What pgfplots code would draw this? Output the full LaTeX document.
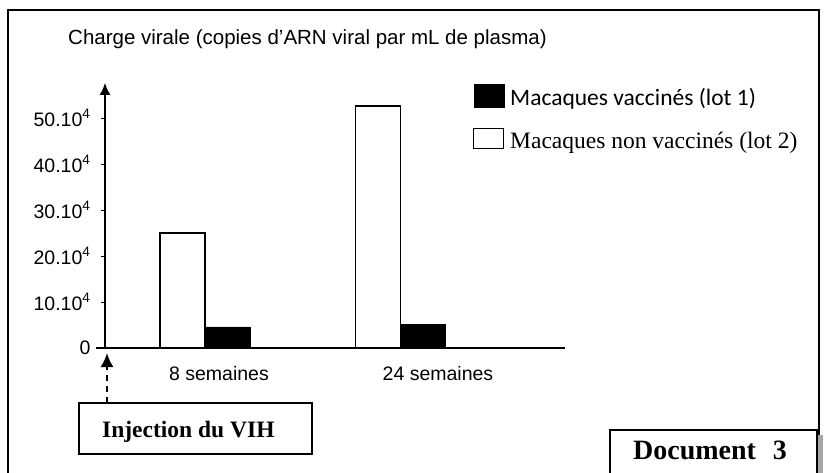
\documentclass[border=0pt]{standalone}
\usepackage{pgfplots}
\pgfplotsset{compat=1.18}
\usepackage{fontspec}
\setmainfont{Liberation Serif}
\newfontfamily\arial{Liberation Sans}
\newfontfamily\carlito{Carlito}
\usetikzlibrary{arrows.meta}

\begin{document}
\begin{tikzpicture}[x=1pt,y=1pt]
\useasboundingbox (0,0) rectangle (824,472);
\fill[white] (0,0) rectangle (824,472);
\draw[line width=1.8pt] (8,-3) -- (8,462) -- (819,462) -- (819,-3);
\begin{axis}[
  at={(105pt,124pt)}, anchor=south west,
  scale only axis, width=460pt, height=265pt,
  xmin=105, xmax=565, ymin=0, ymax=57.61,
  clip=false,
  axis lines*=left,
  x axis line style={draw=none},
  y axis line style={line width=1.4pt, -{Latex[length=12pt,width=11pt]}},
  ytick={0,10,20,30,40,50},
  yticklabels={0,10.10\textsuperscript{4},20.10\textsuperscript{4},30.10\textsuperscript{4},40.10\textsuperscript{4},50.10\textsuperscript{4}},
  xtick={219,438},
  xticklabels={8 semaines,24 semaines},
  xtick style={draw=none},
  ytick style={line width=1pt,black},
  major tick length=4pt,
  tick align=outside,
  ticklabel style={font=\arial\fontsize{19.5}{22}\selectfont},
  yticklabel style={xshift=-7pt},
  xticklabel style={anchor=base, yshift=-28pt},
  title={Charge virale (copies d’ARN viral par mL de plasma)},
  title style={font=\arial\fontsize{20.5}{24}\selectfont, at={(axis description cs:-0.0804,1.1245)}, anchor=base west, inner sep=0pt},
  legend cell align=left,
  legend style={font=\fontsize{23.5}{28}\selectfont, draw=none, fill=none,
    at={(axis cs:473,57.46)}, anchor=north west, inner sep=0pt,
    row sep=21pt, column sep=6pt, nodes={inner sep=0pt}},
]
\addplot[ybar, bar width=45, bar shift=0pt, fill=black, draw=black,
  legend image code/.code={\fill[black] (0pt,-9.8pt) rectangle (30pt,13.2pt);}]
  coordinates {(227.5,4.6) (423,5.2)};
\addlegendentry{\carlito Macaques vaccinés (lot 1)}
\addplot[ybar, bar width=45, bar shift=0pt, fill=white, draw=black, line width=1.2pt,
  legend image code/.code={\draw[black, line width=1pt, fill=white] (0pt,-7.5pt) rectangle (30pt,12.5pt);}]
  coordinates {(182.5,25) (378,52.6)};
\addlegendentry{Macaques non vaccinés (lot 2)}
\draw[line width=1.4pt] (axis cs:96,0) -- (axis cs:565,0);
\end{axis}
% Injection box
\draw[line width=1.4pt] (79,69) rectangle (312,18);
\node[anchor=base west, inner sep=0pt, font=\bfseries\fontsize{23.5}{28}\selectfont] at (102,35) {Injection du VIH};
\draw[line width=2pt, dash pattern=on 6pt off 5pt] (107,69) -- (107,106);
\draw[line width=2pt, -{Latex[length=14pt,width=13pt]}] (107,104) -- (107,119);
% Document 3 box
\fill[gray!70] (816,-3) rectangle (823,37);
\draw[line width=1.4pt] (610,-3) -- (610,42) -- (817,42) -- (817,-3);
\node[anchor=base west, inner sep=0pt, font=\bfseries\fontsize{28}{32}\selectfont] at (633,13) {Document\hspace{0.6em}3};
\end{tikzpicture}
\end{document}
